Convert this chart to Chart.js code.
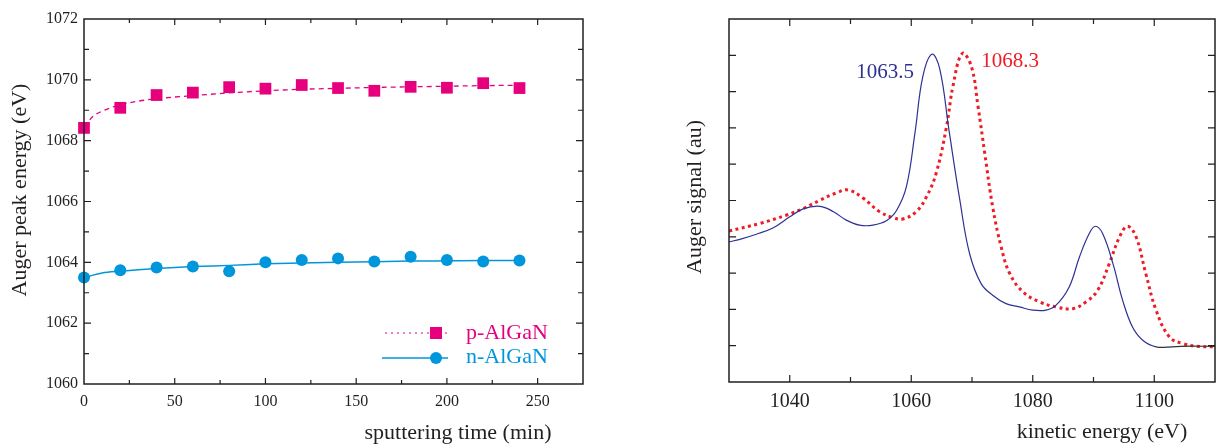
<!DOCTYPE html>
<html>
<head>
<meta charset="utf-8">
<script src="https://cdn.jsdelivr.net/npm/chart.js@4.4.1/dist/chart.umd.min.js"></script>
<style>
  html, body { margin: 0; padding: 0; background: #fff; }
  #wrap { position: relative; width: 1219px; height: 447px; }
  #left { position: absolute; left: 0; top: 0; }
  #right { position: absolute; left: 600px; top: 0; }
</style>
</head>
<body>
<div id="wrap">
  <canvas id="left" width="600" height="447"></canvas>
  <canvas id="right" width="619" height="447"></canvas>
</div>
<script>
// left panel: peak energy vs sputtering time
const sputterTime = [0, 20, 40, 60, 80, 100, 120, 140, 160, 180, 200, 220, 240];
const pEnergy = [1068.42, 1069.08, 1069.5, 1069.58, 1069.76, 1069.71, 1069.83, 1069.73, 1069.64, 1069.77, 1069.74, 1069.89, 1069.73];
const nEnergy = [1063.5, 1063.74, 1063.83, 1063.86, 1063.71, 1064.0, 1064.08, 1064.13, 1064.03, 1064.18, 1064.08, 1064.03, 1064.06];
const fitTime = [0, 5, 10, 20, 30, 40, 60, 80, 100, 120, 140, 160, 180, 200, 220, 240];
const pFit = [1068.45, 1068.8, 1068.97, 1069.18, 1069.3, 1069.38, 1069.48, 1069.57, 1069.64, 1069.69, 1069.72, 1069.75, 1069.77, 1069.79, 1069.81, 1069.82];
const nFit = [1063.47, 1063.58, 1063.65, 1063.71, 1063.76, 1063.8, 1063.86, 1063.9, 1063.95, 1063.98, 1064.0, 1064.02, 1064.04, 1064.05, 1064.06, 1064.06];
const timeTicks = [0, 50, 100, 150, 200, 250];

// right panel: Auger spectra
const nKE = [1030, 1031.8, 1034.5, 1037.3, 1040, 1042.2, 1045, 1047.2, 1049.3, 1051.5, 1053.7, 1055.9, 1057.6, 1059.2, 1060.6, 1061.9, 1063.4, 1064.7, 1066.2, 1068, 1069.6, 1071.5, 1073.4, 1075.6, 1077.8, 1080, 1082.2, 1083.8, 1086, 1087.7, 1089.3, 1090.3, 1091.5, 1093.2, 1094.8, 1096.4, 1098.1, 1100.3, 1103, 1106, 1110];
const nSignal = [3.86, 3.93, 4.07, 4.25, 4.55, 4.77, 4.84, 4.69, 4.46, 4.32, 4.32, 4.44, 4.73, 5.38, 6.85, 8.41, 9.03, 8.62, 6.95, 5.01, 3.54, 2.71, 2.39, 2.16, 2.07, 1.98, 1.98, 2.11, 2.62, 3.45, 4.09, 4.29, 4.09, 3.26, 2.25, 1.52, 1.15, 0.97, 0.97, 0.99, 0.98];
const pKE = [1030, 1035.1, 1039.5, 1042.2, 1045, 1047.7, 1049.6, 1052.1, 1054.8, 1057, 1058.6, 1060.8, 1062.5, 1064.1, 1065.8, 1066.9, 1068.4, 1069.9, 1071, 1072.1, 1073.4, 1074.8, 1076.2, 1078.4, 1081.1, 1083.8, 1086.6, 1088.8, 1090.7, 1092.6, 1094.3, 1095.6, 1097, 1098.6, 1100.3, 1102.5, 1104.7, 1107.4, 1110];
const pSignal = [4.16, 4.37, 4.6, 4.78, 5.01, 5.21, 5.29, 5.06, 4.69, 4.53, 4.49, 4.69, 5.1, 5.75, 7.03, 8.18, 9.05, 8.69, 7.58, 6.3, 4.83, 3.72, 2.99, 2.48, 2.21, 2.07, 2.02, 2.21, 2.53, 3.26, 4.0, 4.29, 4.0, 2.99, 1.98, 1.24, 1.06, 0.98, 0.97];
const keTicks = [1040, 1060, 1080, 1100];
const peakLabels = ['1063.5', '1068.3'];

const PINK = '#e6007e';
const CYAN = '#0096db';
const NAVY = '#2e3192';
const RED = '#ee1c25';
const INK = '#231f20';
const SERIF = '"Liberation Serif", "DejaVu Serif", serif';

function pairs(xs, ys) {
  return xs.map((x, i) => ({ x: x, y: ys[i] }));
}

// frame + inward ticks on all four sides
function drawFrame(chart, xMinor, xMajorLen, xMinorLen, yMinor, yMajorLen, yMinorLen) {
  const ctx = chart.ctx;
  const a = chart.chartArea;
  const xs = chart.scales.x, ys = chart.scales.y;
  ctx.save();
  ctx.strokeStyle = INK;
  ctx.lineWidth = 1.5;
  ctx.strokeRect(a.left, a.top, a.right - a.left, a.bottom - a.top);
  ctx.lineWidth = 1.2;
  ctx.beginPath();
  xMinor.forEach(v => {
    const px = xs.getPixelForValue(v.value);
    const len = v.major ? xMajorLen : xMinorLen;
    ctx.moveTo(px, a.bottom); ctx.lineTo(px, a.bottom - len);
    ctx.moveTo(px, a.top); ctx.lineTo(px, a.top + len);
  });
  yMinor.forEach(v => {
    const py = ys.getPixelForValue(v.value);
    const len = v.major ? yMajorLen : yMinorLen;
    ctx.moveTo(a.left, py); ctx.lineTo(a.left + len, py);
    ctx.moveTo(a.right, py); ctx.lineTo(a.right - len, py);
  });
  ctx.stroke();
  ctx.restore();
}

function text(ctx, str, x, y, font, color, rotate) {
  ctx.save();
  ctx.font = font;
  ctx.fillStyle = color;
  ctx.textAlign = 'center';
  ctx.textBaseline = 'middle';
  ctx.translate(x, y);
  if (rotate) ctx.rotate(-Math.PI / 2);
  ctx.fillText(str, 0, 0);
  ctx.restore();
}

const leftDecor = {
  id: 'leftDecor',
  afterDraw(chart) {
    const ctx = chart.ctx;
    const xt = [], yt = [];
    for (let v = 25; v < 275; v += 25) xt.push({ value: v, major: v % 50 === 0 });
    for (let v = 1061; v < 1072; v += 1) yt.push({ value: v, major: v % 2 === 0 });
    drawFrame(chart, xt, 6, 4, yt, 7, 5);
    text(ctx, 'sputtering time (min)', 458, 433, '22px ' + SERIF, INK);
    text(ctx, 'Auger peak energy (eV)', 20, 190, '22px ' + SERIF, INK, true);
    // legend
    ctx.save();
    ctx.lineWidth = 1.2;
    ctx.strokeStyle = PINK;
    ctx.setLineDash([2, 4]);
    ctx.beginPath(); ctx.moveTo(385, 333); ctx.lineTo(448, 333); ctx.stroke();
    ctx.setLineDash([]);
    ctx.strokeStyle = CYAN;
    ctx.lineWidth = 1.5;
    ctx.beginPath(); ctx.moveTo(382, 358); ctx.lineTo(448, 358); ctx.stroke();
    ctx.fillStyle = PINK;
    ctx.fillRect(430, 327, 12, 12);
    ctx.fillStyle = CYAN;
    ctx.beginPath(); ctx.arc(436, 358, 6, 0, Math.PI * 2); ctx.fill();
    ctx.font = '22px ' + SERIF;
    ctx.textBaseline = 'middle';
    ctx.textAlign = 'left';
    ctx.fillStyle = PINK;
    ctx.fillText('p-AlGaN', 466, 333);
    ctx.fillStyle = CYAN;
    ctx.fillText('n-AlGaN', 466, 357);
    ctx.restore();
  }
};

const rightDecor = {
  id: 'rightDecor',
  afterDraw(chart) {
    const ctx = chart.ctx;
    const xt = [], yt = [];
    for (let v = 1040; v < 1110; v += 10) xt.push({ value: v, major: v % 20 === 0 });
    for (let v = 1; v < 10; v += 1) yt.push({ value: v, major: true });
    drawFrame(chart, xt, 7, 5, yt, 7, 7);
    text(ctx, 'kinetic energy (eV)', 502, 432, '22px ' + SERIF, INK);
    text(ctx, 'Auger signal (au)', 95, 197, '22px ' + SERIF, INK, true);
    text(ctx, peakLabels[0], 285, 72, '21px ' + SERIF, NAVY);
    text(ctx, peakLabels[1], 410, 61, '21px ' + SERIF, RED);
  }
};

const plain = (v) => String(v);

new Chart(document.getElementById('left'), {
  type: 'scatter',
  data: {
    datasets: [
      {
        label: 'p-AlGaN fit',
        data: pairs(fitTime, pFit),
        showLine: true,
        borderColor: PINK,
        borderWidth: 1.3,
        borderDash: [5, 4],
        pointRadius: 0,
        cubicInterpolationMode: 'monotone',
      },
      {
        label: 'n-AlGaN fit',
        data: pairs(fitTime, nFit),
        showLine: true,
        borderColor: CYAN,
        borderWidth: 1.5,
        pointRadius: 0,
        cubicInterpolationMode: 'monotone',
      },
      {
        label: 'p-AlGaN',
        data: pairs(sputterTime, pEnergy),
        pointStyle: 'rect',
        pointRadius: 8.3,
        backgroundColor: PINK,
        borderColor: PINK,
        borderWidth: 0,
        clip: false,
      },
      {
        label: 'n-AlGaN',
        data: pairs(sputterTime, nEnergy),
        pointStyle: 'circle',
        pointRadius: 6,
        backgroundColor: CYAN,
        borderColor: CYAN,
        borderWidth: 0,
        clip: false,
      },
    ],
  },
  options: {
    responsive: false,
    animation: false,
    devicePixelRatio: 1,
    layout: { padding: { left: 0, right: 17, top: 19, bottom: 0 } },
    plugins: { legend: { display: false }, tooltip: { enabled: false } },
    scales: {
      x: {
        type: 'linear',
        min: 0,
        max: 275,
        grid: { display: false, drawTicks: false },
        border: { display: false },
        afterBuildTicks: (s) => { s.ticks = timeTicks.map(v => ({ value: v })); },
        afterFit: (s) => { s.height = 63; },
        ticks: { padding: 8, color: INK, font: { family: SERIF, size: 16 }, callback: plain },
      },
      y: {
        min: 1060,
        max: 1072,
        grid: { display: false, drawTicks: false },
        border: { display: false },
        afterFit: (s) => { s.width = 84; },
        ticks: { stepSize: 2, padding: 6, color: INK, font: { family: SERIF, size: 16 }, callback: plain },
      },
    },
  },
  plugins: [leftDecor],
});

new Chart(document.getElementById('right'), {
  type: 'scatter',
  data: {
    datasets: [
      {
        label: 'n-AlGaN spectrum',
        data: pairs(nKE, nSignal),
        showLine: true,
        borderColor: NAVY,
        borderWidth: 1.2,
        pointRadius: 0,
        tension: 0.4,
        segment: { borderColor: (c) => (c.p0.parsed.x >= 1100 ? '#333' : undefined) },
      },
      {
        label: 'p-AlGaN spectrum',
        data: pairs(pKE, pSignal),
        showLine: true,
        borderColor: RED,
        borderWidth: 3,
        borderDash: [3, 3.5],
        pointRadius: 0,
        tension: 0.4,
      },
    ],
  },
  options: {
    responsive: false,
    animation: false,
    devicePixelRatio: 1,
    layout: { padding: { left: 0, right: 4, top: 19, bottom: 0 } },
    plugins: { legend: { display: false }, tooltip: { enabled: false } },
    scales: {
      x: {
        type: 'linear',
        min: 1030,
        max: 1110,
        grid: { display: false, drawTicks: false },
        border: { display: false },
        afterBuildTicks: (s) => { s.ticks = keTicks.map(v => ({ value: v })); },
        afterFit: (s) => { s.height = 65; },
        ticks: { padding: 8, color: INK, font: { family: SERIF, size: 20 }, callback: plain },
      },
      y: {
        min: 0,
        max: 10,
        grid: { display: false, drawTicks: false },
        border: { display: false },
        afterFit: (s) => { s.width = 129; },
        ticks: { display: false },
      },
    },
  },
  plugins: [rightDecor],
});
</script>
</body>
</html>
